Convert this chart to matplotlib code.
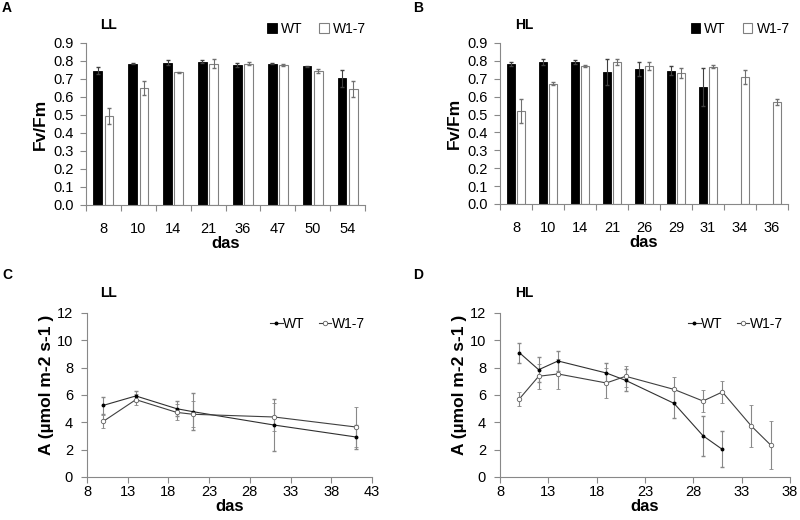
import numpy as np
import matplotlib
matplotlib.use('Agg')
import matplotlib.pyplot as plt

plt.rcParams['font.family'] = ['Liberation Sans', 'DejaVu Sans']

# --- panel A: Fv/Fm, LL ---
das_a = ['8', '10', '14', '21', '36', '47', '50', '54']
wt_a = [0.747, 0.785, 0.790, 0.797, 0.779, 0.786, 0.770, 0.703]
wt_a_err = [0.020, 0.004, 0.015, 0.010, 0.010, 0.005, 0.003, 0.048]
mut_a = [0.495, 0.650, 0.738, 0.785, 0.785, 0.778, 0.746, 0.645]
mut_a_err = [0.045, 0.040, 0.003, 0.025, 0.007, 0.004, 0.010, 0.045]

# --- panel B: Fv/Fm, HL ---
das_b = ['8', '10', '14', '21', '26', '29', '31', '34', '36']
wt_b = [0.784, 0.795, 0.795, 0.739, 0.754, 0.746, 0.655, np.nan, np.nan]
wt_b_err = [0.010, 0.017, 0.011, 0.071, 0.041, 0.024, 0.105, np.nan, np.nan]
mut_b = [0.520, 0.672, 0.773, 0.795, 0.771, 0.732, 0.767, 0.709, 0.570]
mut_b_err = [0.065, 0.008, 0.005, 0.017, 0.024, 0.028, 0.008, 0.039, 0.015]

# --- panel C: A, LL ---
wt_c_x = [10, 14, 19, 21, 31, 41]
wt_c = [5.24, 5.93, 5.00, 4.78, 3.80, 2.93]
wt_c_err = [0.60, 0.36, 0.54, 1.37, 1.89, 0.86]
mut_c_x = [10, 14, 19, 21, 31, 41]
mut_c = [4.07, 5.66, 4.73, 4.59, 4.39, 3.66]
mut_c_err = [0.50, 0.40, 0.58, 0.95, 1.00, 1.46]

# --- panel D: A, HL ---
wt_d_x = [10, 12, 14, 19, 21, 26, 29, 31]
wt_d = [9.10, 7.85, 8.49, 7.61, 7.07, 5.39, 3.02, 2.02]
wt_d_err = [0.73, 0.93, 0.75, 0.76, 0.80, 1.05, 1.47, 1.32]
mut_d_x = [10, 12, 14, 19, 21, 26, 29, 31, 34, 36]
mut_d = [5.71, 7.37, 7.54, 6.88, 7.37, 6.41, 5.56, 6.22, 3.73, 2.34]
mut_d_err = [0.54, 0.90, 1.08, 1.07, 0.75, 0.93, 0.83, 0.78, 1.56, 1.73]

W, H = 800, 520
SPINE = '#888888'
TICK_FS = 10.5
LAB_FS = 12.5


def px_axes(fig, left, right, top, bottom):
    return fig.add_axes([left / W, 1 - bottom / H, (right - left) / W, (bottom - top) / H])


def style_axes(ax):
    for s in ['top', 'right']:
        ax.spines[s].set_visible(False)
    for s in ['left', 'bottom']:
        ax.spines[s].set_color(SPINE)
        ax.spines[s].set_linewidth(0.8)
    ax.tick_params(axis='both', which='major', direction='out', length=4,
                   color=SPINE, width=0.8, labelsize=TICK_FS, pad=2)
    ax.tick_params(axis='y', pad=5)


def bar_panel(ax, cats, wt, wt_err, mut, mut_err):
    n = len(cats)
    x = np.arange(n)
    off, w = 0.16, 0.25
    ax.bar(x - off, wt, w, color='black', edgecolor='black', lw=0.6, label='WT')
    ax.bar(x + off, mut, w, color='white', edgecolor='#808080', lw=0.8, label='W1-7')
    ax.errorbar(x - off, wt, yerr=wt_err, fmt='none', ecolor='#404040', elinewidth=0.8, capsize=1.5)
    ax.errorbar(x + off, mut, yerr=mut_err, fmt='none', ecolor='#707070', elinewidth=0.8, capsize=1.5)
    ax.set_xlim(-0.5, n - 0.5)
    ax.set_ylim(0, 0.9)
    ax.set_yticks(np.arange(0, 0.91, 0.1))
    ax.set_yticklabels(['%.1f' % v for v in np.arange(0, 0.91, 0.1)])
    style_axes(ax)
    ax.set_xticks(np.arange(n + 1) - 0.5)
    ax.set_xticklabels([])
    ax.set_xticks(x, minor=True)
    ax.set_xticklabels(cats, minor=True)
    ax.tick_params(axis='x', which='minor', length=0, labelsize=TICK_FS, pad=12)
    ax.set_ylabel('Fv/Fm', fontsize=LAB_FS, fontweight='bold', labelpad=4)
    ax.set_xlabel('das', fontsize=12, fontweight='bold', labelpad=0)
    ax.legend(loc='lower right', bbox_to_anchor=(1.03, 1.0), ncol=2, frameon=False,
              fontsize=10, handlelength=0.7, handleheight=0.7, handletextpad=0.3,
              columnspacing=1.2, borderaxespad=0.1)


def line_panel(ax, wx, wy, we, mx, my, me, xmax):
    ax.errorbar(wx, wy, yerr=we, color='#303030', lw=0.8, marker='o', ms=1.8,
                mfc='black', mec='black', ecolor='#888888', elinewidth=0.8,
                capsize=1.5, label='WT')
    ax.errorbar(mx, my, yerr=me, color='#404040', lw=0.8, marker='o', ms=3.2,
                mfc='white', mec='#606060', mew=0.6, ecolor='#888888', elinewidth=0.8,
                capsize=1.5, label='W1-7')
    ax.set_xlim(8, xmax)
    ax.set_ylim(0, 12)
    ax.set_xticks(np.arange(8, xmax + 1, 5))
    ax.set_yticks(np.arange(0, 13, 2))
    style_axes(ax)
    ax.tick_params(axis='y', pad=6)
    ax.set_ylabel('A (µmol m-2 s-1 )', fontsize=LAB_FS, fontweight='bold', labelpad=3)
    ax.yaxis.set_label_coords(-0.115, 0.56)
    ax.set_xlabel('das', fontsize=12, fontweight='bold', labelpad=0)
    h, l = ax.get_legend_handles_labels()
    h = [hh[0] for hh in h]
    ax.legend(h, l, loc='upper right', bbox_to_anchor=(1.0, 1.02), ncol=2, frameon=False,
              fontsize=10, handlelength=0.9, handletextpad=0.05, columnspacing=1.0,
              borderaxespad=0.1)


fig = plt.figure(figsize=(W / 100, H / 100), dpi=100)

ax_a = px_axes(fig, 86, 365, 43, 205)
bar_panel(ax_a, das_a, wt_a, wt_a_err, mut_a, mut_a_err)
ax_b = px_axes(fig, 500, 788, 43, 204)
bar_panel(ax_b, das_b, wt_b, wt_b_err, mut_b, mut_b_err)
ax_c = px_axes(fig, 87, 372, 313, 477)
line_panel(ax_c, wt_c_x, wt_c, wt_c_err, mut_c_x, mut_c, mut_c_err, 43)
ax_d = px_axes(fig, 500, 790, 313, 477)
line_panel(ax_d, wt_d_x, wt_d, wt_d_err, mut_d_x, mut_d, mut_d_err, 38)

for lab, x, y in [('A', 2, 8), ('B', 413, 8), ('C', 2, 275), ('D', 413, 275)]:
    fig.text(x / W, 1 - y / H, lab, fontsize=10, fontweight='bold', va='center', ha='left')
for lab, x, y in [('LL', 100, 25), ('HL', 515, 25), ('LL', 100, 293), ('HL', 515, 293)]:
    fig.text(x / W, 1 - y / H, lab, fontsize=10, fontweight='bold', va='center', ha='left')

fig.savefig('out.png', dpi=100)
